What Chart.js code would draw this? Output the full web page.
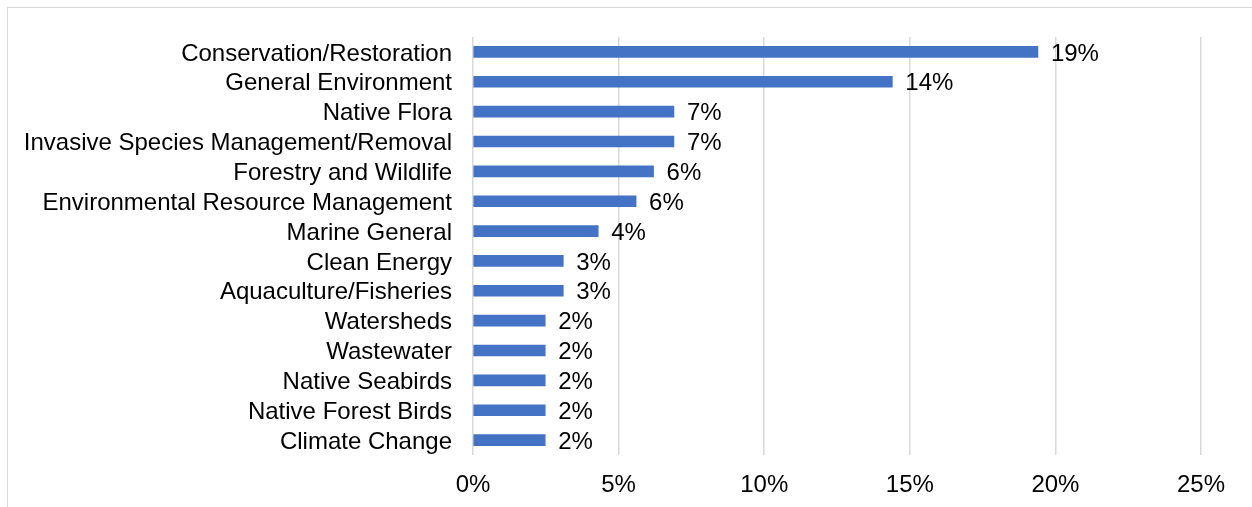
<!DOCTYPE html>
<html>
<head>
<meta charset="utf-8">
<script src="https://cdn.jsdelivr.net/npm/chart.js@4"></script>
<style>
  html, body { margin: 0; padding: 0; background: #fff; }
  body { width: 1252px; height: 507px; position: relative; overflow: hidden; }
  #frame { position: absolute; left: 7px; top: 7px; width: 1300px; height: 600px; border: 1px solid #d9d9d9; }
  #wrap { position: absolute; left: 0; top: 0; width: 1252px; height: 507px; }
</style>
</head>
<body>
<div id="frame"></div>
<div id="wrap"><canvas id="topicChart"></canvas></div>
<script>
const categories = [
  'Conservation/Restoration',
  'General Environment',
  'Native Flora',
  'Invasive Species Management/Removal',
  'Forestry and Wildlife',
  'Environmental Resource Management',
  'Marine General',
  'Clean Energy',
  'Aquaculture/Fisheries',
  'Watersheds',
  'Wastewater',
  'Native Seabirds',
  'Native Forest Birds',
  'Climate Change'
];
const shares = [19.4, 14.4, 6.9, 6.9, 6.2, 5.6, 4.3, 3.1, 3.1, 2.48, 2.48, 2.48, 2.48, 2.48];
const xTicks = [0, 5, 10, 15, 20, 25];

const fontFamily = '"Liberation Sans", Arial, sans-serif';

// percent labels just right of each bar
const valueLabels = {
  id: 'valueLabels',
  afterDatasetsDraw(chart) {
    const ctx = chart.ctx;
    const meta = chart.getDatasetMeta(0);
    ctx.save();
    ctx.font = '24px ' + fontFamily;
    ctx.fillStyle = '#000';
    ctx.textAlign = 'left';
    ctx.textBaseline = 'middle';
    meta.data.forEach((bar, i) => {
      ctx.fillText(Math.round(shares[i]) + '%', bar.x + 13, bar.y + 2);
    });
    ctx.restore();
  }
};

new Chart(document.getElementById('topicChart').getContext('2d'), {
  type: 'bar',
  data: {
    labels: categories,
    datasets: [{ data: shares, backgroundColor: '#4472c4', barThickness: 11 }]
  },
  options: {
    indexAxis: 'y',
    responsive: true,
    maintainAspectRatio: false,
    animation: false,
    layout: { padding: { top: 37, right: 51, left: 0, bottom: 0 } },
    plugins: { legend: { display: false }, tooltip: { enabled: false } },
    scales: {
      x: {
        min: 0,
        max: 25,
        afterBuildTicks(scale) { scale.ticks = xTicks.map(v => ({ value: v })); },
        afterFit(scale) { scale.height = 52; },
        border: { display: false },
        grid: { color: '#d9d9d9', lineWidth: 1.5, drawTicks: false },
        ticks: { color: '#000', padding: 16, font: { size: 24, family: fontFamily }, callback: v => v + '%' }
      },
      y: {
        afterFit(scale) { scale.width = 473; },
        border: { display: false },
        grid: { display: false, drawTicks: false },
        ticks: { color: '#000', padding: 21, autoSkip: false, labelOffset: 2, font: { size: 24, family: fontFamily } }
      }
    }
  },
  plugins: [valueLabels]
});
</script>
</body>
</html>
